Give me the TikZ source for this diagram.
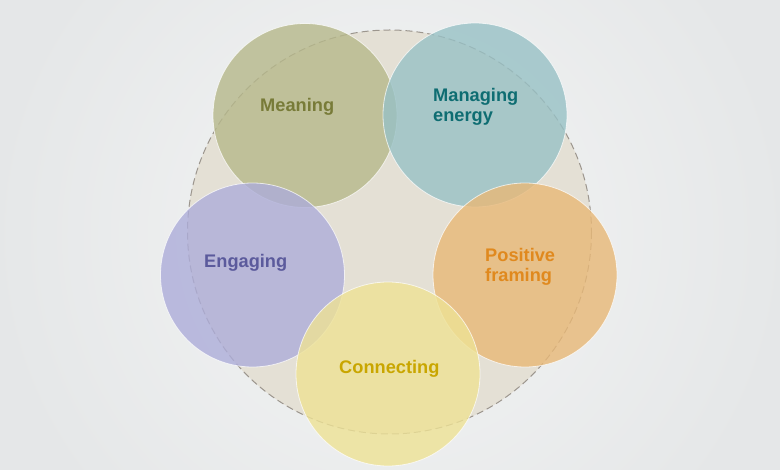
\documentclass[tikz,border=0pt]{standalone}
\usepackage{fontspec}
\setmainfont{Liberation Sans}
\usetikzlibrary{calc}

\definecolor{bgedge}{HTML}{E5E7E8}
\definecolor{bgmid}{HTML}{F4F5F5}
\definecolor{basefill}{HTML}{E4E0D5}
\definecolor{basedash}{HTML}{9C968E}
\definecolor{meaningfill}{HTML}{B6B88B}
\definecolor{meaningtext}{HTML}{787B38}
\definecolor{energyfill}{HTML}{98C1C5}
\definecolor{energytext}{HTML}{0E6D72}
\definecolor{engagefill}{HTML}{ADADD9}
\definecolor{engagetext}{HTML}{5B5A9C}
\definecolor{framefill}{HTML}{E8B877}
\definecolor{frametext}{HTML}{E0891E}
\definecolor{connectfill}{HTML}{EEE295}
\definecolor{connecttext}{HTML}{C9A600}

\tikzset{
    bubble/.style={circle,minimum size=184bp,inner sep=0pt,draw=white,draw opacity=0.7,line width=0.8bp,fill opacity=0.8},
    bubbletext/.style={anchor=west,align=left,inner sep=0pt,font=\fontsize{18.3}{20}\selectfont\bfseries}
}

\begin{document}
\begin{tikzpicture}[x=1bp,y=-1bp]
        \useasboundingbox (0,0) rectangle (780,470);
        \fill[bgedge] (0,0) rectangle (780,470);
        \shade[inner color=bgmid,outer color=bgedge] (390,235) circle (400);
        % big dashed ring
        \draw[color=basedash,fill=basefill,dash pattern=on 7bp off 4bp,line width=1bp] (389.5,232) circle (202);
        % five bubbles
        \node[bubble,fill=meaningfill] (meaning) at (305,115.5) {};
        \node[bubble,fill=energyfill] (energy) at (475,115) {};
        \node[bubble,fill=engagefill] (engaging) at (252.5,275) {};
        \node[bubble,fill=framefill] (framing) at (525,275) {};
        \node[bubble,fill=connectfill] (connecting) at (388,374) {};
        % labels
        \node[bubbletext,text=meaningtext] (meaninglbl) at (260,107) {Meaning};
        \node[bubbletext,text=energytext] (energylbl) at (433,107) {Managing\\energy};
        \node[bubbletext,text=engagetext] (engaginglbl) at (204,263) {Engaging};
        \node[bubbletext,text=frametext] (framinglbl) at (485,267) {Positive\\framing};
        \node[bubbletext,text=connecttext] (connectinglbl) at (339,369) {Connecting};
    \end{tikzpicture}
\end{document}
